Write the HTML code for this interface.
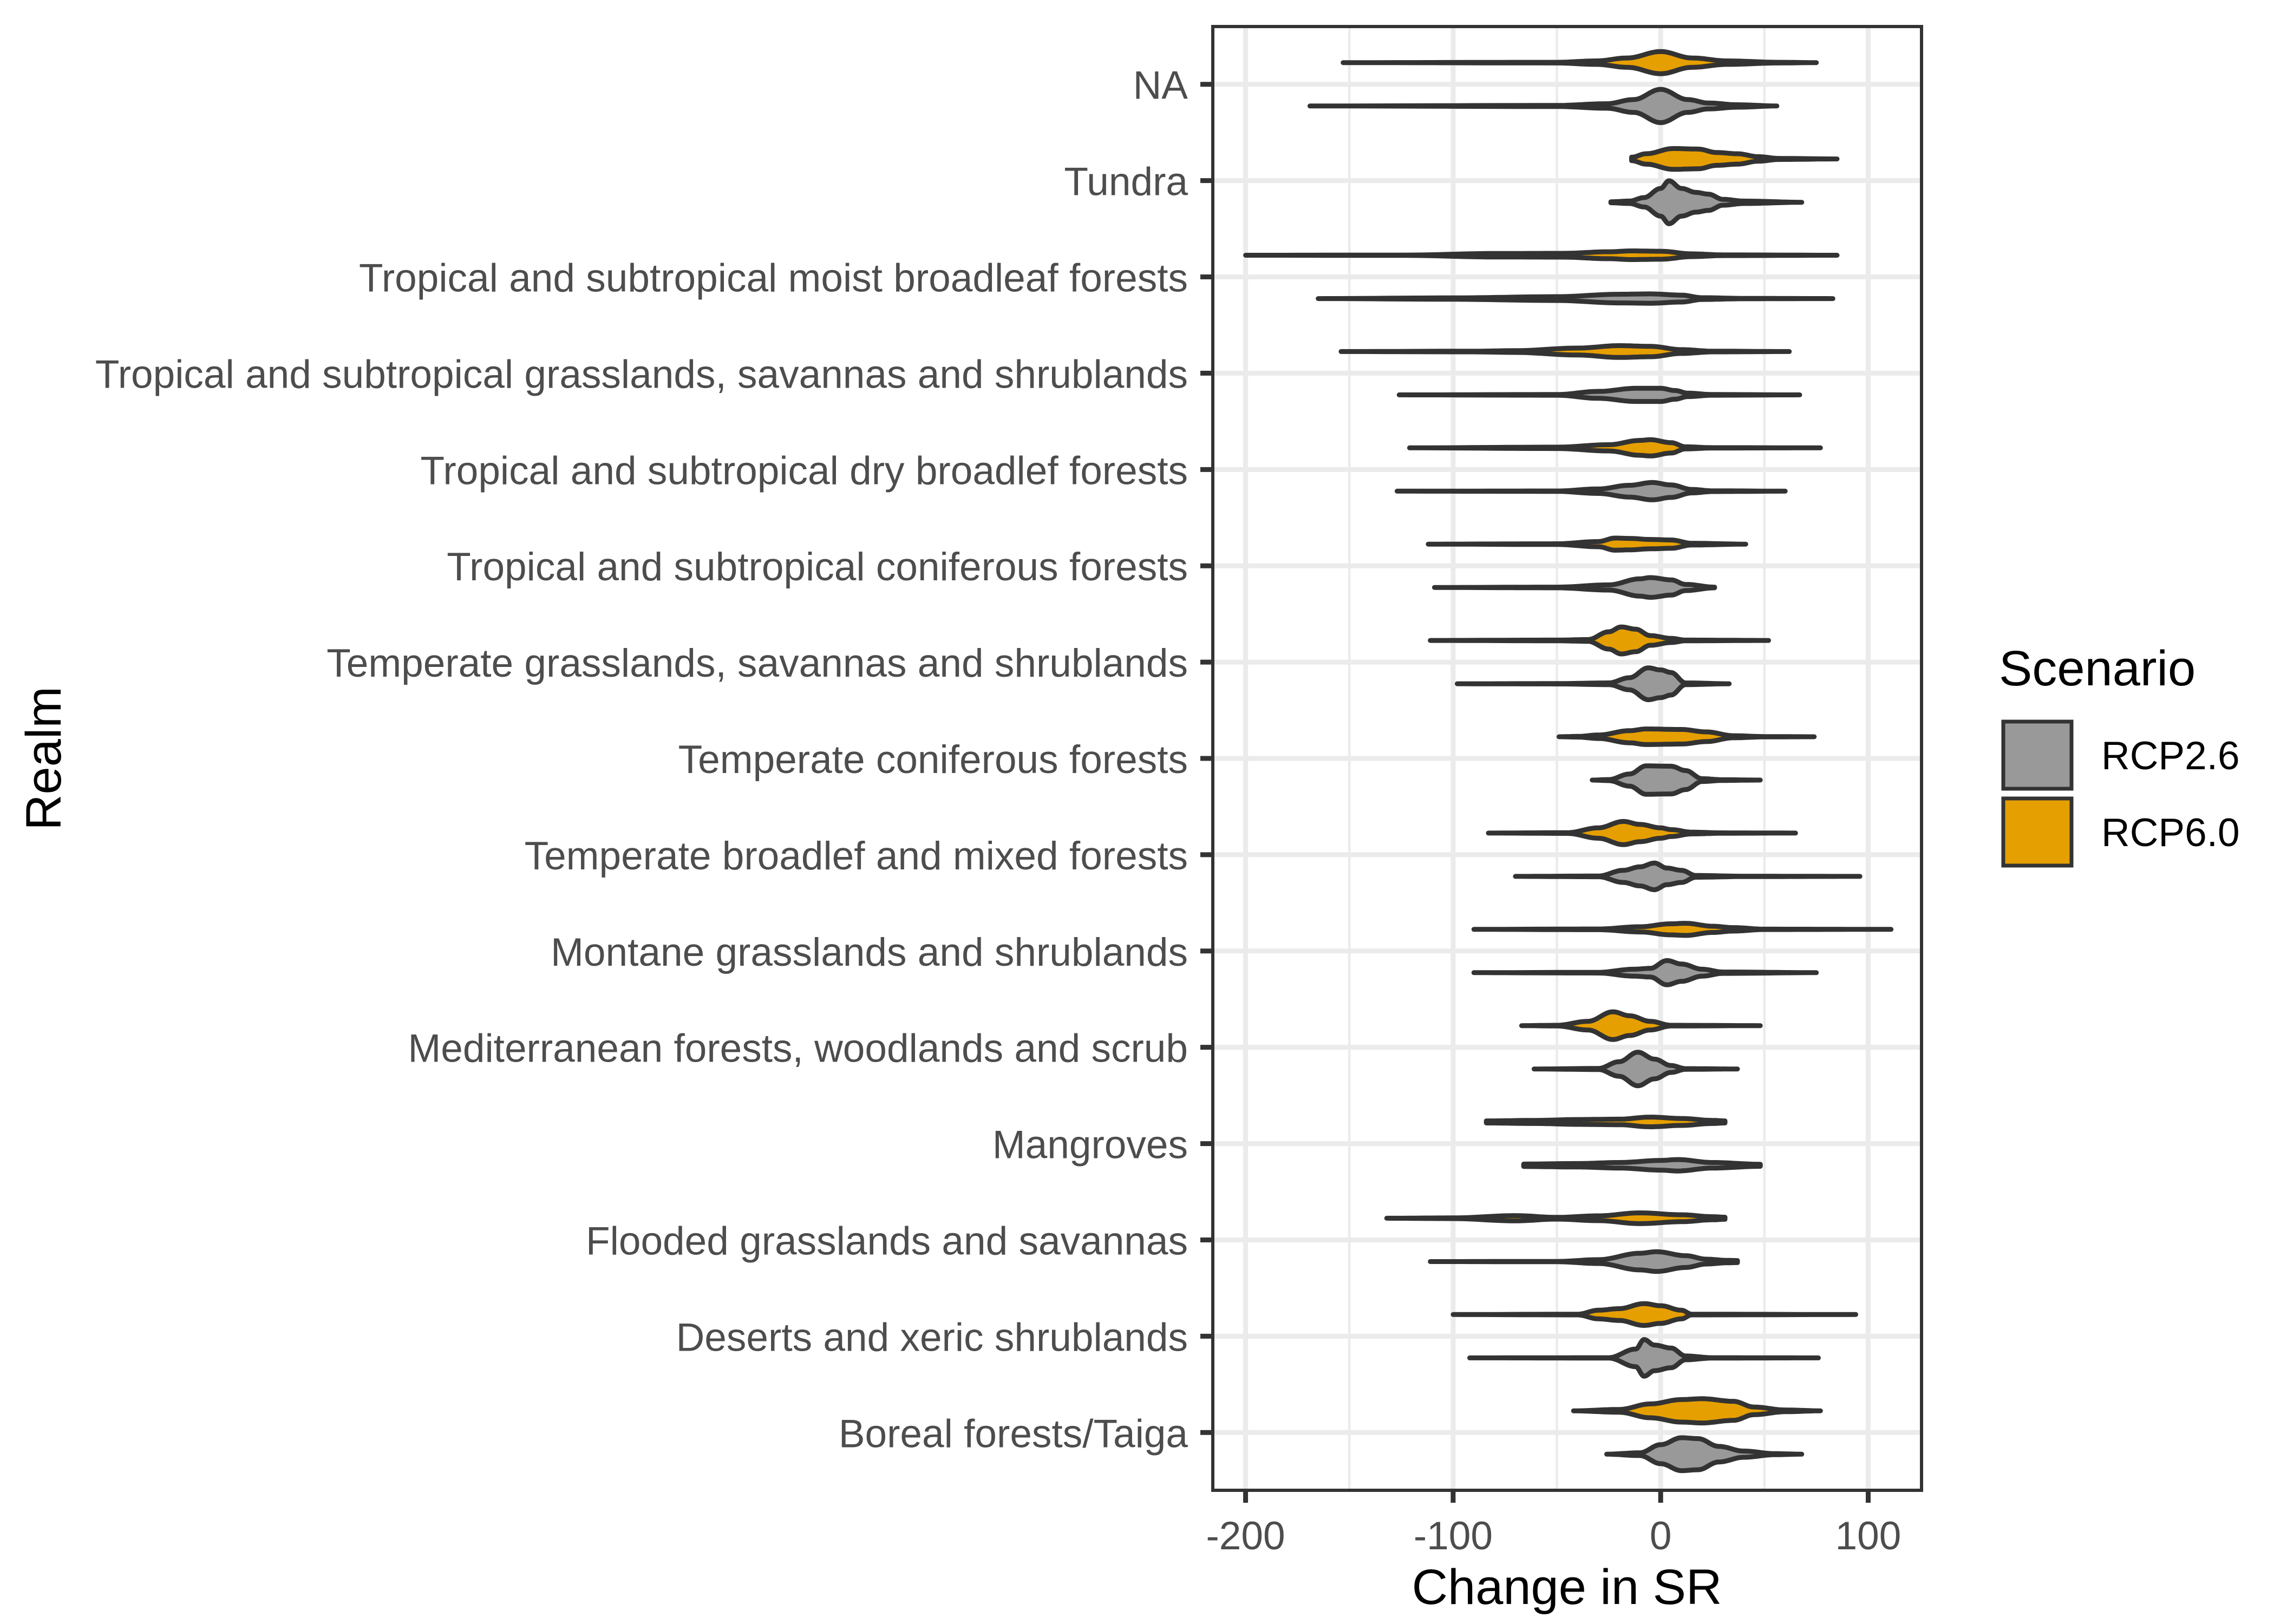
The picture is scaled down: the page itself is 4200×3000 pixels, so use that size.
<!DOCTYPE html>
<html><head><meta charset="utf-8"><style>
html,body{margin:0;padding:0;background:#fff;}
svg{display:block;font-family:"Liberation Sans",Arial,sans-serif;}
</style></head><body>
<svg id="chart" width="4200" height="3000" viewBox="0 0 4200 3000" xmlns="http://www.w3.org/2000/svg">
<rect width="4200" height="3000" fill="#fff"/>
<g id="grid"></g>
<g id="violins"></g>
<rect x="2240" y="49" width="1309" height="2704" fill="none" stroke="#333" stroke-width="6"/>
<g id="axes"></g>
<text x="2894" y="2963" font-size="92" text-anchor="middle" fill="#000">Change in SR</text>
<text transform="translate(112,1401) rotate(-90)" font-size="92" text-anchor="middle" fill="#000">Realm</text>
<g>
<text x="3692" y="1266" font-size="92" fill="#000">Scenario</text>
<g>
<rect x="3700" y="1333" width="126" height="124" fill="#999999" stroke="#333" stroke-width="7"/>
<text x="3881" y="1421" font-size="73" fill="#000">RCP2.6</text>
</g>
<g>
<rect x="3700" y="1475" width="126" height="124" fill="#E69F00" stroke="#333" stroke-width="7"/>
<text x="3881" y="1563" font-size="73" fill="#000">RCP6.0</text>
</g>
</g>
</svg>
<script>
const categories = ["NA","Tundra","Tropical and subtropical moist broadleaf forests","Tropical and subtropical grasslands, savannas and shrublands","Tropical and subtropical dry broadlef forests","Tropical and subtropical coniferous forests","Temperate grasslands, savannas and shrublands","Temperate coniferous forests","Temperate broadlef and mixed forests","Montane grasslands and shrublands","Mediterranean forests, woodlands and scrub","Mangroves","Flooded grasslands and savannas","Deserts and xeric shrublands","Boreal forests/Taiga"];
const xTicks = [-200,-100,0,100];
const xTickLabels = ["-200","-100","0","100"];
const xMinor = [-150,-50,50];
// density profiles: [change in SR, relative density]
const rcp60 = [
 [[-153,0],[-50,.02],[-31,.1],[-16,.27],[0,.64],[15,.27],[32,.1],[57,.02],[75,0]],
 [[-14,.1],[-7,.3],[6,.6],[18,.57],[27,.37],[37,.3],[47,.13],[57,.03],[85,0]],
 [[-200,0],[-123,.01],[-80,.1],[-47,.11],[-25,.2],[-14,.25],[0,.23],[15,.08],[30,.02],[85,0]],
 [[-154,0],[-90,.02],[-70,.05],[-40,.2],[-20,.34],[-5,.3],[10,.11],[25,.02],[62,0]],
 [[-121,0],[-50,.04],[-25,.18],[-10,.43],[-5,.47],[5,.3],[12,.06],[25,.01],[77,0]],
 [[-112,0],[-50,.02],[-30,.15],[-22,.35],[-15,.33],[-5,.27],[5,.24],[15,.05],[41,0]],
 [[-111,0],[-50,.02],[-35,.05],[-25,.5],[-19,.78],[-12,.65],[-5,.28],[5,.12],[12,.02],[52,0]],
 [[-49,0],[-40,.02],[-30,.1],[-15,.35],[-7,.45],[10,.42],[22,.28],[35,.06],[50,.01],[74,0]],
 [[-83,0],[-45,.02],[-30,.3],[-18,.67],[-10,.5],[0,.3],[5,.2],[15,.05],[30,.01],[65,0]],
 [[-90,0],[-30,.02],[-10,.15],[5,.32],[12,.35],[25,.18],[35,.1],[50,.01],[111,0]],
 [[-67,0],[-50,.02],[-35,.25],[-23,.8],[-15,.57],[-5,.25],[5,.02],[48,0]],
 [[-84,.06],[-60,.09],[-40,.14],[-20,.16],[-5,.28],[10,.2],[25,.09],[31,.06]],
 [[-132,0],[-100,.02],[-70,.15],[-50,.05],[-30,.14],[-10,.31],[10,.2],[25,.09],[31,.06]],
 [[-100,0],[-40,.02],[-30,.25],[-20,.34],[-8,.63],[0,.51],[10,.25],[15,.02],[94,0]],
 [[-42,0],[-20,.08],[-5,.4],[10,.65],[20,.7],[35,.55],[45,.22],[60,.05],[77,0]]
];
const rcp26 = [
 [[-169,0],[-50,.03],[-26,.13],[-13,.37],[0,.96],[13,.37],[23,.17],[37,.07],[56,0]],
 [[-24,.03],[-15,.07],[-8,.27],[0,.8],[4,1.24],[10,.8],[17,.57],[23,.47],[30,.17],[40,.07],[68,0]],
 [[-165,0],[-100,.04],[-50,.11],[-20,.25],[-5,.27],[10,.2],[20,.05],[40,.01],[83,0]],
 [[-126,0],[-50,.02],[-30,.2],[-12,.38],[0,.38],[7,.25],[13,.1],[25,.02],[67,0]],
 [[-127,0],[-50,.01],[-30,.13],[-15,.34],[-4,.5],[5,.36],[15,.1],[25,.02],[60,0]],
 [[-109,0],[-50,.02],[-25,.15],[-10,.5],[-5,.57],[5,.44],[12,.18],[26,.02]],
 [[-98,0],[-50,.01],[-25,.05],[-15,.35],[-6,.92],[0,.8],[5,.65],[12,.05],[33,0]],
 [[-33,0],[-25,.03],[-15,.35],[-7,.82],[5,.8],[12,.55],[20,.08],[30,.02],[48,0]],
 [[-70,0],[-30,.02],[-18,.35],[-10,.55],[-3,.77],[3,.48],[10,.35],[17,.05],[40,.01],[96,0]],
 [[-90,0],[-30,.02],[-13,.2],[-5,.25],[3,.7],[10,.5],[20,.2],[30,.04],[75,0]],
 [[-61,0],[-30,.03],[-20,.42],[-11,.97],[-3,.57],[5,.2],[12,.02],[37,0]],
 [[-66,.07],[-40,.1],[-20,.16],[0,.28],[8,.33],[25,.16],[48,.06]],
 [[-111,0],[-50,.01],[-30,.11],[-10,.48],[-2,.57],[12,.34],[22,.14],[32,.07],[37,.06]],
 [[-92,0],[-25,.01],[-12,.51],[-8,1.06],[-3,.74],[5,.57],[12,.11],[25,.01],[76,0]],
 [[-26,0],[-10,.08],[0,.55],[10,.95],[18,.9],[28,.45],[40,.18],[55,.03],[68,0]]
];
const NS="http://www.w3.org/2000/svg";
const PL=2240, PR=3549, PT=49, PB=2753;
const XMIN=-215.8, XMAX=125.7;
function xs(v){return PL+(v-XMIN)/(XMAX-XMIN)*(PR-PL);}
const n=categories.length;
function ys(i){
  const pos=n-i;
  return PB-(pos-0.4)/(n+0.2)*(PB-PT);
}
const unitH=(PB-PT)/(n+0.2);
const densScale=32;
function mk(tag,attrs,parent){const e=document.createElementNS(NS,tag);for(const k in attrs)e.setAttribute(k,attrs[k]);parent.appendChild(e);return e;}
const grid=document.getElementById('grid');
xMinor.forEach(v=>{
  const l=mk('line',{x1:xs(v),x2:xs(v),y1:PT,y2:PB,stroke:'#EBEBEB','stroke-width':4.5},grid);
  
  
});
xTicks.forEach(v=>{
  const l=mk('line',{x1:xs(v),x2:xs(v),y1:PT,y2:PB,stroke:'#EBEBEB','stroke-width':9},grid);
  
  
});
categories.forEach((c,i)=>{
  const l=mk('line',{x1:PL,x2:PR,y1:ys(i),y2:ys(i),stroke:'#EBEBEB','stroke-width':9},grid);
  
  
});
function violinPath(knots,yc){
  const top=[],bot=[];
  for(let k=0;k<knots.length-1;k++){
    const [x0,d0]=knots[k],[x1,d1]=knots[k+1];
    const steps=12;
    for(let s=0;s<steps;s++){
      const t=s/steps, w=(1-Math.cos(Math.PI*t))/2;
      const xv=x0+(x1-x0)*t, dv=d0+(d1-d0)*w;
      top.push([xs(xv),yc-dv*densScale]);bot.push([xs(xv),yc+dv*densScale]);
    }
  }
  const last=knots[knots.length-1];
  top.push([xs(last[0]),yc-last[1]*densScale]);bot.push([xs(last[0]),yc+last[1]*densScale]);
  const pts=top.concat(bot.reverse());
  return 'M'+pts.map(p=>p[0].toFixed(1)+','+p[1].toFixed(1)).join('L')+'Z';
}
const vg=document.getElementById('violins');
const off=0.225*unitH;
categories.forEach((c,i)=>{
  const yc=ys(i);
  const p1=mk('path',{d:violinPath(rcp60[i],yc-off),fill:'#E69F00',stroke:'#333','stroke-width':9,'stroke-linejoin':'round'},vg);
  
  
  const p2=mk('path',{d:violinPath(rcp26[i],yc+off),fill:'#999999',stroke:'#333','stroke-width':9,'stroke-linejoin':'round'},vg);
  
  
});
const ax=document.getElementById('axes');
categories.forEach((c,i)=>{
  const t=mk('line',{x1:PL-23,x2:PL,y1:ys(i),y2:ys(i),stroke:'#333','stroke-width':9},ax);
  
  
  const tx=mk('text',{x:2194,y:ys(i)+27,'font-size':73,'text-anchor':'end',fill:'#4D4D4D'},ax);
  tx.textContent=c;
  
  
});
xTicks.forEach((v,i)=>{
  const t=mk('line',{x1:xs(v),x2:xs(v),y1:PB,y2:PB+23,stroke:'#333','stroke-width':9},ax);
  
  
  const tx=mk('text',{x:xs(v),y:2862,'font-size':73,'text-anchor':'middle',fill:'#4D4D4D'},ax);
  tx.textContent=xTickLabels[i];
  
  
});
</script>
</body></html>
